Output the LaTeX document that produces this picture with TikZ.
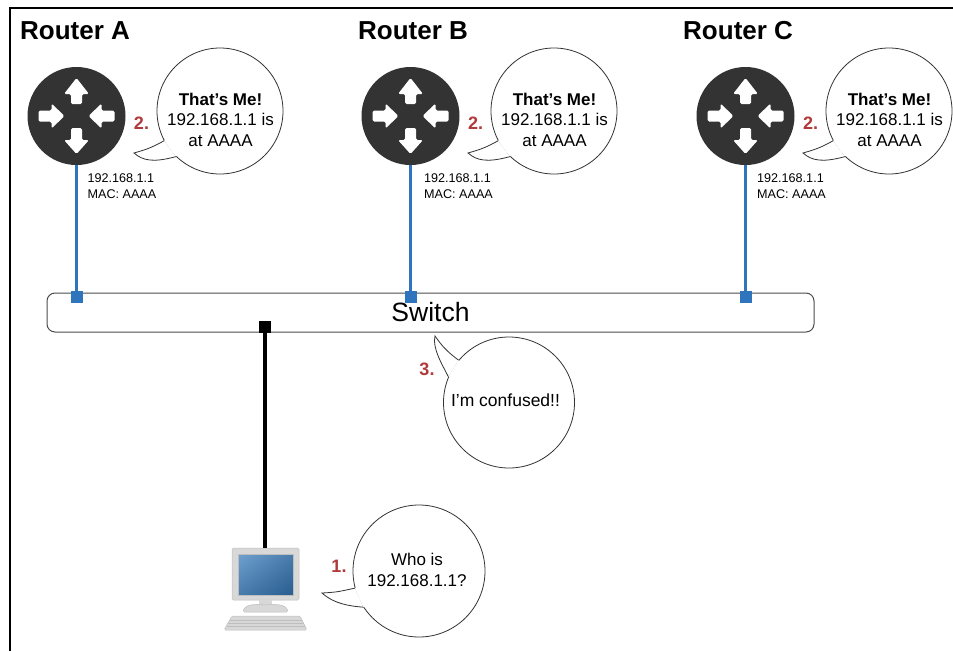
\documentclass[tikz,border=0pt]{standalone}
\usepackage{xcolor}
\usepackage{fontspec}
\usepackage{tikz}
\usetikzlibrary{shadings}
\setmainfont{Liberation Sans}
\definecolor{routerdark}{RGB}{51,51,51}
\definecolor{linkblue}{RGB}{46,117,190}
\definecolor{stepred}{RGB}{176,58,58}
\definecolor{pcgray}{RGB}{216,216,216}
\definecolor{pcedge}{RGB}{190,190,190}
\definecolor{screenlight}{RGB}{112,160,207}
\definecolor{screenmid}{RGB}{72,124,172}
\definecolor{screendark}{RGB}{42,93,144}
\tikzset{
  router/.style = {circle, fill=routerdark, minimum size=98pt, inner sep=0pt},
  bubble/.style = {circle, draw=black!80, line width=0.8pt, fill=white, minimum size=#1, inner sep=0pt},
  tail/.style = {draw=black!80, line width=0.8pt, fill=white},
  bubbletext/.style = {inner sep=0pt, align=center, font=\fontsize{17}{20.5}\selectfont},
  heading/.style = {anchor=west, inner sep=0pt, font=\fontsize{26}{30}\selectfont\bfseries},
  addr/.style = {anchor=west, inner sep=0pt, align=left, font=\fontsize{12.6}{16}\selectfont},
  stepnum/.style = {inner sep=0pt, text=stepred, font=\fontsize{18}{20}\selectfont\bfseries},
  port/.style = {rectangle, minimum size=12pt, inner sep=0pt, fill=#1},
  link/.style = {line width=3.2pt, draw=#1},
  pcpart/.style = {fill=pcgray, draw=pcedge, line width=0.5pt, rounded corners=1.5pt}
}
\begin{document}
\begin{tikzpicture}[x=1pt, y=-1pt]
\useasboundingbox (0,0) rectangle (953,651);
% outer frame
\coordinate (frameBL) at (10,651);
\coordinate (frameTL) at (10,8);
\coordinate (frameTR) at (953,8);
\draw[line width=2.6pt, line join=miter] (frameBL) -- (frameTL) -- (frameTR);

% switch
\node[draw=black!70, line width=1pt, rounded corners=8pt, minimum width=767pt, minimum height=39pt,
  inner sep=0pt, font=\fontsize{26.5}{30}\selectfont] (switch) at (430.5,312.5) {\raisebox{-1pt}{Switch}};

% routers
\foreach \n/\x/\hx/\ax in {A/76.5/20/87.5, B/410.5/358/424, C/745.5/683/757}{
  \node[heading] (head\n) at (\hx,30.5) {Router \n};
  \node[router] (router\n) at (\x,116) {};
  \begin{scope}[shift={(\x,116)}]
    \foreach \ang/\pa/\pb/\pc in {90/12/22/38, 270/12/24/38, 0/38/25/12, 180/38/25/12}{
      \fill[white, rotate=\ang, rounded corners=1.5pt]
        (\pa,-5.5) -- (\pb,-5.5) -- (\pb,-12.5) -- (\pc,0) -- (\pb,12.5) -- (\pb,5.5) -- (\pa,5.5) -- cycle;
    }
  \end{scope}
  \node[port=linkblue] (port\n) at (\x,296.5) {};
  \draw[link=linkblue] (router\n.south) -- (port\n.center);
  \node[addr] (addr\n) at (\ax,186) {192.168.1.1\\MAC: AAAA};
  \node[stepnum] (num\n) at ([xshift=65pt]router\n.center |- 0,123) {2.};
  % speech bubble
  \node[bubble=126pt] (bub\n) at ([xshift=143.5pt]router\n.center |- 0,111) {};
  \coordinate (tip\n) at ([xshift=57.5pt]router\n.center |- 0,153);
  \fill[white] (bub\n.208.6) -- (bub\n.center) -- (bub\n.226.3) -- cycle;
  \path[tail] (bub\n.208.6) .. controls +(-14,8) and +(10,-3) .. (tip\n)
    .. controls +(9,8) and +(-22,6) .. (bub\n.226.3);
  \node[bubbletext] (say\n) at ([xshift=144pt]router\n.center |- 0,119.5)
    {\textbf{That's Me!}\\192.168.1.1 is\\at AAAA};
}

% confused bubble
\node[bubble=131pt] (bubS) at (509,402.5) {};
\coordinate (tipS) at (435,336);
\fill[white] (bubS.140.6) -- (bubS.center) -- (bubS.157) -- cycle;
\path[tail] (bubS.140.6) .. controls +(-12,-9) and +(7,10) .. (tipS)
  .. controls +(-3,12) and +(-6,-12) .. (bubS.157);
\node[bubbletext, font=\fontsize{17.5}{20}\selectfont] (sayS) at (505.5,400) {I'm confused!!};
\node[stepnum] (numS) at (427,369) {3.};

% computer
\node[pcpart, minimum width=67pt, minimum height=52pt, inner sep=0pt] (monitor) at (265.5,574) {};
\node[minimum width=55pt, minimum height=41pt, inner sep=0pt, draw=pcedge, line width=0.3pt,
  upper left=screenlight, upper right=screenmid, lower left=screenmid, lower right=screendark] (screen) at (265.5,574.5) {};
\fill[pcgray] (259,600) rectangle (272,606);
\path[pcpart] (243,612) .. controls (245,604) and (256,604) .. (265.5,605)
  .. controls (275,604) and (286,604) .. (288,612) -- cycle;
\path[pcpart] (232,616) -- (300,616) -- (307,630) -- (224,630) -- cycle;
\foreach \ly/\la/\lb in {620/230/302, 623/228/304, 626/227/305}
  \draw[pcedge, line width=0.5pt] (\la,\ly) -- (\lb,\ly);

\node[port=black] (portPC) at (265,327) {};
\draw[link=black] (portPC.center) -- (monitor.north -| portPC);

% who is bubble
\node[bubble=132pt] (bubW) at (419,571) {};
\coordinate (tipW) at (322,593);
\fill[white] (bubW.195.3) -- (bubW.center) -- (bubW.213) -- cycle;
\path[tail] (bubW.195.3) .. controls +(-15,3) and +(18,-1) .. (tipW)
  .. controls +(12,11) and +(-13,-1) .. (bubW.213);
\node[bubbletext] (sayW) at (417,570) {Who is\\192.168.1.1?};
\node[stepnum] (numW) at (339,566) {1.};
\end{tikzpicture}
\end{document}
